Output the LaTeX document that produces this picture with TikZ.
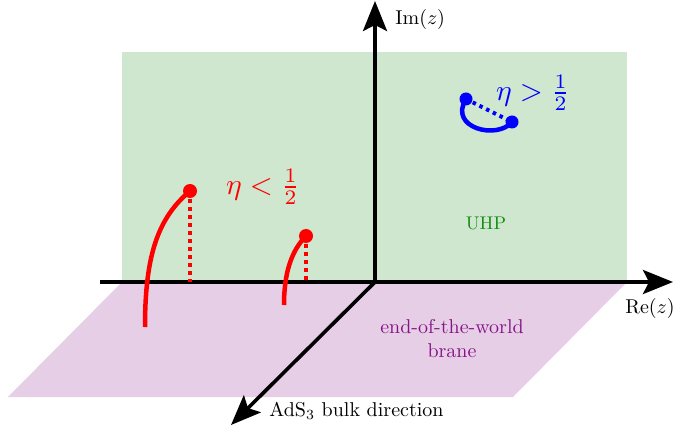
\documentclass[tikz,border=0pt]{standalone}
\usetikzlibrary{arrows.meta}
\definecolor{uhpfill}{RGB}{207,230,207}
\definecolor{branefill}{RGB}{229,206,230}
\definecolor{uhptext}{RGB}{20,140,20}
\definecolor{branetext}{RGB}{135,20,135}
\tikzset{
  axis/.style={line width=3.6pt, black, -{Stealth[length=30pt,width=24pt,inset=6pt]}},
  redcurve/.style={line width=4.5pt, red},
  reddots/.style={line width=4pt, red, dash pattern=on 4pt off 4pt},
  bluecurve/.style={line width=4.5pt, blue},
  bluedots/.style={line width=4pt, blue, dash pattern=on 3.5pt off 4pt},
  lbl/.style={scale=2, inner sep=0pt},
  etalbl/.style={scale=2.95, inner sep=0pt},
}
\begin{document}
\begin{tikzpicture}[x=1pt,y=-1pt]
\useasboundingbox (0,0) rectangle (674,427);
% coordinates
\coordinate (O) at (375,282);
\coordinate (Xl) at (100,282);
\coordinate (Xr) at (673,282);
\coordinate (Yt) at (375,1);
\coordinate (B) at (231,425);
% planes
\fill[uhpfill] (122,52) rectangle (627,282);
\fill[branefill] (122,282) -- (627,282) -- (513,397) -- (8,397) -- cycle;
% axes
\draw[axis] (Xl) -- (Xr);
\draw[axis] (O) -- (Yt);
\draw[axis] (O) -- (B);
% labels
\node[lbl, anchor=west] (im) at (395,20) {Im$(z)$};
\node[lbl] (re) at (650,308) {Re$(z)$};
\node[lbl, anchor=west] (ads) at (269,411) {AdS$_3$ bulk direction};
\node[lbl, text=uhptext, scale=0.92] (uhp) at (486,223) {UHP};
\node[lbl, text=branetext, align=center] (brane) at (452,339) {end-of-the-world\\brane};
% red curves
\coordinate (r1a) at (145,327);
\coordinate (r1b) at (190,191);
\coordinate (r1c) at (190,282);
\draw[redcurve] (r1a) .. controls (145,255) and (158,218) .. (r1b);
\draw[reddots] (190,199) -- (r1c);
\fill[red] (r1b) circle (7pt);
\coordinate (r2a) at (284,305);
\coordinate (r2b) at (306,236);
\coordinate (r2c) at (306,282);
\draw[redcurve] (r2a) .. controls (284,272) and (292,250) .. (r2b);
\draw[reddots] (306,244) -- (r2c);
\fill[red] (r2b) circle (7pt);
\node[etalbl, text=red] (etal) at (263,187) {$\eta<\frac12$};
% blue curve
\coordinate (b1) at (466,99);
\coordinate (b2) at (512,122);
\draw[bluecurve] (b1) .. controls (448,128) and (497,140) .. (b2);
\draw[bluedots] (b1) -- (b2);
\fill[blue] (b1) circle (6.5pt);
\fill[blue] (b2) circle (6.5pt);
\node[etalbl, text=blue] (etag) at (533,93) {$\eta>\frac12$};
\end{tikzpicture}
\end{document}
